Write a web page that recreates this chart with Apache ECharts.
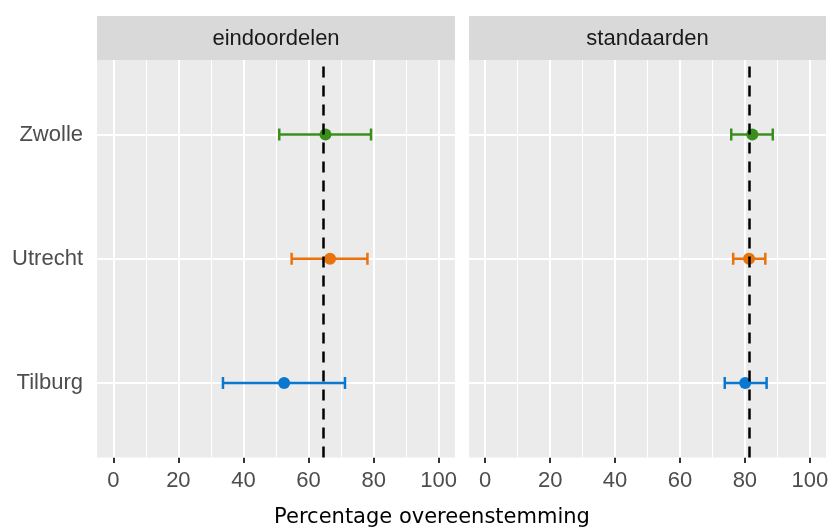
<!DOCTYPE html>
<html>
<head>
<meta charset="utf-8">
<script src="https://cdn.jsdelivr.net/npm/echarts@6/dist/echarts.min.js"></script>
<style>html,body{margin:0;padding:0;background:#fff;}#c{width:834px;height:530px;}</style>
</head>
<body>
<div id="c"></div>
<script>
// ---- data ----
const cities = ['Tilburg', 'Utrecht', 'Zwolle'];
const cityColors = ['#0a78d0', '#e8730c', '#3a8e1c'];
const panels = ['eindoordelen', 'standaarden'];
const eindMid = [52.5, 66.6, 65.2];
const eindLo = [33.7, 54.8, 51.0];
const eindHi = [71.2, 78.1, 79.2];
const stdMid = [80.1, 81.3, 82.3];
const stdLo = [73.8, 76.4, 75.8];
const stdHi = [86.7, 86.3, 88.6];
const refLines = [64.5, 81.4];
const xTicks = [0, 20, 40, 60, 80, 100];
const xMinor = [10, 30, 50, 70, 90];
const yTicks = [1, 2, 3];
const xTitle = 'Percentage overeenstemming';

const panelData = [
  { mid: eindMid, lo: eindLo, hi: eindHi },
  { mid: stdMid, lo: stdLo, hi: stdHi }
];

const grids = [
  { left: 97, top: 60, width: 358, height: 397.5 },
  { left: 469, top: 60, width: 357, height: 397.5 }
];

const labelFont = { fontFamily: 'Liberation Sans, Arial, sans-serif', fontSize: 22, color: '#4d4d4d' };

const option = {
  animation: false,
  backgroundColor: '#ffffff',
  grid: grids.map(g => Object.assign({ show: true, backgroundColor: '#ebebeb', borderWidth: 0 }, g)),
  xAxis: grids.map((g, i) => ({
    type: 'value', gridIndex: i, min: -5, max: 105,
    axisLine: { show: false },
    axisTick: { show: true, customValues: xTicks, length: 5.5, lineStyle: { color: '#333333', width: 2 } },
    axisLabel: Object.assign({ customValues: xTicks, margin: 12 }, labelFont),
    splitLine: { show: false }
  })),
  yAxis: grids.map((g, i) => ({
    type: 'value', gridIndex: i, min: 0.4, max: 3.6,
    axisLine: { show: false },
    axisTick: { show: i === 0, customValues: yTicks, length: 5.5, lineStyle: { color: '#333333', width: 2 } },
    axisLabel: Object.assign({ show: i === 0, customValues: yTicks, margin: 14,
      formatter: v => cities[Math.round(v) - 1] || '' }, labelFont),
    splitLine: { show: false }
  })),
  series: [],
  graphic: []
};

panels.forEach((name, i) => {
  const d = panelData[i];
  // gridlines
  option.series.push({
    type: 'line', xAxisIndex: i, yAxisIndex: i, data: [], z: 1, silent: true,
    markLine: {
      z: 1, silent: true, symbol: 'none', label: { show: false }, animation: false,
      data: [
        ...xMinor.map(v => ({ xAxis: v, lineStyle: { color: '#ffffff', width: 1, type: 'solid' } })),
        ...xTicks.map(v => ({ xAxis: v, lineStyle: { color: '#ffffff', width: 2, type: 'solid' } })),
        ...yTicks.map(v => ({ yAxis: v, lineStyle: { color: '#ffffff', width: 2, type: 'solid' } }))
      ]
    }
  });
  // error bars
  option.series.push({
    type: 'custom', xAxisIndex: i, yAxisIndex: i, z: 3, silent: true,
    data: cities.map((c, k) => [d.lo[k], d.hi[k], k + 1, k]),
    renderItem: (params, api) => {
      const lo = api.coord([api.value(0), api.value(2)]);
      const hi = api.coord([api.value(1), api.value(2)]);
      const col = cityColors[api.value(3)];
      const h = 6;
      const st = { stroke: col, lineWidth: 2.5 };
      return {
        type: 'group', children: [
          { type: 'line', shape: { x1: lo[0], y1: lo[1], x2: hi[0], y2: hi[1] }, style: st },
          { type: 'line', shape: { x1: lo[0], y1: lo[1] - h, x2: lo[0], y2: lo[1] + h }, style: st },
          { type: 'line', shape: { x1: hi[0], y1: hi[1] - h, x2: hi[0], y2: hi[1] + h }, style: st }
        ]
      };
    }
  });
  // points
  option.series.push({
    type: 'scatter', xAxisIndex: i, yAxisIndex: i, z: 4, silent: true,
    symbol: 'circle', symbolSize: 12,
    data: cities.map((c, k) => ({ value: [d.mid[k], k + 1], itemStyle: { color: cityColors[k], opacity: 1 } }))
  });
  // dashed reference line
  option.series.push({
    type: 'line', xAxisIndex: i, yAxisIndex: i, data: [], z: 10, silent: true,
    markLine: {
      z: 10, silent: true, symbol: 'none', label: { show: false }, animation: false,
      data: [{ xAxis: refLines[i], lineStyle: { color: '#000000', width: 2.5, type: [11, 8] } }]
    }
  });
  // strip
  const g = grids[i];
  option.graphic.push({
    type: 'rect', shape: { x: g.left, y: 16, width: g.width, height: 44 },
    style: { fill: '#d9d9d9' }, z: 0
  });
  option.graphic.push({
    type: 'text', x: g.left + g.width / 2, y: 38.5,
    style: { text: name, fill: '#1a1a1a', font: '22px "Liberation Sans", Arial, sans-serif',
      textAlign: 'center', textVerticalAlign: 'middle' }
  });
});

option.graphic.push({
  type: 'text', x: 432, y: 518,
  style: { text: xTitle, fill: '#000000', font: '21px "DejaVu Sans", Verdana, sans-serif',
    textAlign: 'center', textVerticalAlign: 'middle' }
});

const chart = echarts.init(document.getElementById('c'), null, { renderer: 'canvas' });
chart.setOption(option);
</script>
</body>
</html>
